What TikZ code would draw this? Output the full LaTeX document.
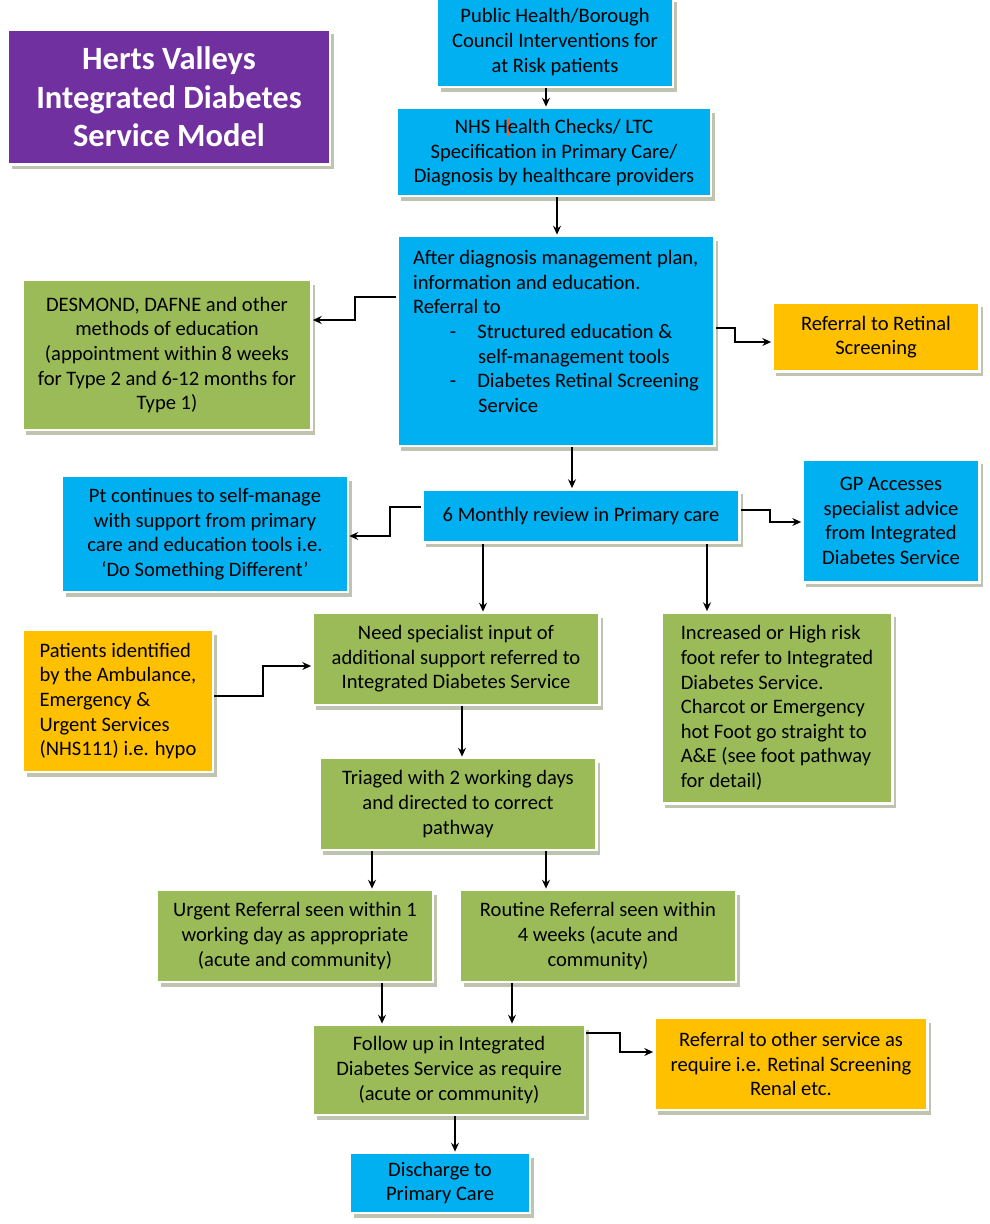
\documentclass[tikz,border=0pt]{standalone}
\usepackage{fontspec}
\setmainfont{Carlito}
\usetikzlibrary{arrows.meta,shadows}

\definecolor{hvblue}{HTML}{00B0F0}
\definecolor{hvgreen}{HTML}{9BBB59}
\definecolor{hvorange}{HTML}{FFC000}
\definecolor{hvpurple}{HTML}{7030A0}
\definecolor{hvshadow}{HTML}{BFC4B0}
\definecolor{hvcursor}{HTML}{FF5A1F}

\tikzset{
  box/.style={draw=white, line width=1.6pt, inner sep=2pt, align=center,
    font=\fontsize{11.7}{14}\selectfont,
    drop shadow={shadow xshift=2.2pt, shadow yshift=-2.8pt, fill=hvshadow, opacity=1}},
  bluebox/.style={box, fill=hvblue},
  greenbox/.style={box, fill=hvgreen},
  orangebox/.style={box, fill=hvorange},
  arr/.style={-{Stealth[length=5pt,width=4.5pt]}, line width=0.8pt},
}

\begin{document}
\begin{tikzpicture}[x=0.02cm, y=-0.02cm]
  \useasboundingbox (0,0) rectangle (990,1224);

  % title
  \node[box, fill=hvpurple, text=white, font=\bfseries\fontsize{18.5}{22}\selectfont,
        minimum width=6.44cm, minimum height=2.70cm] (title) at (169,97)
    {Herts Valleys\\Integrated Diabetes\\Service Model};

  % main column
  \node[bluebox, minimum width=4.72cm, minimum height=1.80cm] (ph) at (555,42)
    {Public Health/Borough\\Council Interventions for\\at Risk patients};
  \node[bluebox, minimum width=6.28cm, minimum height=1.76cm] (nhs) at (554,152)
    {NHS H\kern-0.4pt\textcolor{hvcursor}{\rule[-0.12em]{1.2pt}{0.9em}}\kern-0.8pt ealth Checks/ LTC\\Specification in Primary Care/\\Diagnosis by healthcare providers};
  \node[bluebox, align=left, minimum width=6.34cm, minimum height=4.20cm] (after) at (556,341)
    {After diagnosis management plan,\\information and education.\\Referral to\\
     \hspace*{21pt}-\hspace{12pt}Structured education \&\\
     \hspace*{37pt}self-management tools\\
     \hspace*{21pt}-\hspace{12pt}Diabetes Retinal Screening\\
     \hspace*{37pt}Service\\[-3pt]};
  \node[bluebox, minimum width=6.34cm, minimum height=1.06cm] (six) at (581,516)
    {6 Monthly review in Primary care};
  \node[greenbox, minimum width=5.74cm, minimum height=1.84cm] (need) at (456,659)
    {Need specialist input of\\additional support referred to\\Integrated Diabetes Service};
  \node[greenbox, minimum width=5.54cm, minimum height=1.84cm] (tri) at (458,804)
    {Triaged with 2 working days\\and directed to correct\\pathway};
  \node[greenbox, minimum width=5.52cm, minimum height=1.84cm] (urg) at (295,936)
    {Urgent Referral seen within 1\\working day as appropriate\\(acute and community)};
  \node[greenbox, minimum width=5.52cm, minimum height=1.84cm] (rout) at (598,936)
    {Routine Referral seen within\\4 weeks (acute and\\community)};
  \node[greenbox, minimum width=5.44cm, minimum height=1.80cm] (fol) at (449,1070)
    {Follow up in Integrated\\Diabetes Service as require\\(acute or community)};
  \node[bluebox, minimum width=3.60cm, minimum height=1.20cm] (dis) at (440,1183)
    {Discharge to\\Primary Care};

  % side boxes
  \node[greenbox, minimum width=5.78cm, minimum height=3.00cm] (desmond) at (167,355)
    {DESMOND, DAFNE and other\\methods of education\\(appointment within 8 weeks\\for Type 2 and 6-12 months for\\Type 1)};
  \node[orangebox, minimum width=4.14cm, minimum height=1.38cm] (retinal) at (876,337)
    {Referral to Retinal\\Screening};
  \node[bluebox, minimum width=5.72cm, minimum height=2.32cm] (pt) at (205,534)
    {Pt continues to self-manage\\with support from primary\\care and education tools i.e.\\`Do Something Different'};
  \node[bluebox, minimum width=3.54cm, minimum height=2.46cm] (gp) at (891,521)
    {GP Accesses\\specialist advice\\from Integrated\\Diabetes Service};
  \node[greenbox, align=left, minimum width=4.62cm, minimum height=3.82cm] (foot) at (777,708)
    {Increased or High risk\\foot refer to Integrated\\Diabetes Service.\\Charcot or Emergency\\hot Foot go straight to\\A\&E (see foot pathway\\for detail)};
  \node[orangebox, align=left, minimum width=3.80cm, minimum height=2.84cm] (pat) at (118,701)
    {Patients identified\\by the Ambulance,\\Emergency \&\\Urgent Services\\(NHS111) i.e. hypo};
  \node[orangebox, minimum width=5.46cm, minimum height=1.84cm] (oth) at (791,1064)
    {Referral to other service as\\require i.e. Retinal Screening\\Renal etc.};

  % connectors
  \draw[arr] (ph.south -| 546,0) -- (nhs.north -| 546,0);
  \draw[arr] (nhs.south -| 557,0) -- (after.north -| 557,0);
  \draw[arr] (after.west |- 0,297) -| (355,320) -- (desmond.east |- 0,320);
  \draw[arr] (after.east |- 0,328) -| (735,342) -- (retinal.west |- 0,342);
  \draw[arr] (after.south -| 572,0) -- (six.north -| 572,0);
  \draw[arr] (six.west |- 0,507) -| (390,536) -- (pt.east |- 0,536);
  \draw[arr] (six.east |- 0,510) -| (770,522) -- (gp.west |- 0,522);
  \draw[arr] (six.south -| 483,0) -- (need.north -| 483,0);
  \draw[arr] (six.south -| 707,0) -- (foot.north -| 707,0);
  \draw[arr] (pat.east |- 0,696) -| (263,666) -- (need.west |- 0,666);
  \draw[arr] (need.south -| 462,0) -- (tri.north -| 462,0);
  \draw[arr] (tri.south -| 372,0) -- (urg.north -| 372,0);
  \draw[arr] (tri.south -| 546,0) -- (rout.north -| 546,0);
  \draw[arr] (urg.south -| 382,0) -- (fol.north -| 382,0);
  \draw[arr] (rout.south -| 512,0) -- (fol.north -| 512,0);
  \draw[arr] (fol.east |- 0,1033) -| (620,1052) -- (oth.west |- 0,1052);
  \draw[arr] (fol.south -| 455,0) -- (dis.north -| 455,0);
\end{tikzpicture}
\end{document}
